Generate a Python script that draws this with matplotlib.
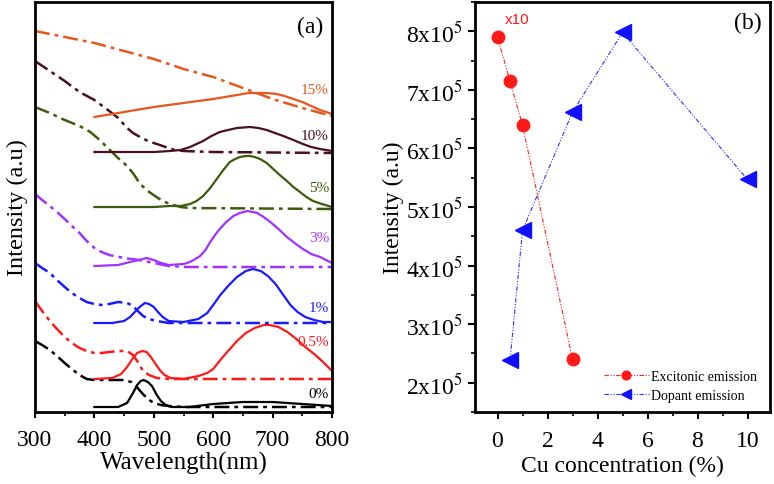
import matplotlib
matplotlib.use('Agg')
import matplotlib.pyplot as plt
from matplotlib.ticker import MultipleLocator

plt.rcParams['font.family'] = ['Liberation Serif', 'DejaVu Serif']
plt.rcParams['mathtext.fontset'] = 'stix'

# ---- panel (a): spectra (stacked, arbitrary units) ----
# dash-dot = absorption, solid = emission
wl_abs_0 = [300, 312, 325, 337, 350, 362, 375, 387, 400, 450, 462, 470, 480, 490, 500, 512, 525, 550, 800]
abs_0 = [71, 67, 62, 56, 49, 43, 37, 33, 32, 32, 30, 26, 19, 13, 9, 7, 6, 5, 5]
wl_abs_05 = [300, 312, 325, 337, 350, 362, 375, 387, 400, 412, 425, 440, 455, 465, 472, 482, 492, 505,
             525, 800]
abs_05 = [111, 101, 91, 83, 75, 69, 64, 61, 59, 59, 60, 61, 61, 57, 51, 41, 37, 34, 33, 33]
wl_abs_1 = [300, 312, 325, 337, 350, 362, 375, 387, 400, 412, 425, 440, 455, 465, 473, 482, 492, 505,
            525, 800]
abs_1 = [149, 144, 139, 132, 125, 119, 114, 110, 108, 107, 108, 110, 109, 106, 101, 96, 93, 91, 89, 89]
wl_abs_3 = [300, 312, 325, 337, 350, 362, 375, 387, 400, 412, 425, 450, 475, 500, 525, 550, 800]
abs_3 = [218, 212, 206, 200, 193, 186, 179, 171, 164, 160, 157, 154, 152, 149, 146, 145, 145]
wl_abs_5 = [300, 325, 350, 375, 393, 407, 421, 438, 455, 466, 477, 490, 502, 515, 527, 545, 560, 800]
abs_5 = [305, 299, 292, 286, 280, 273, 265, 255, 246, 238, 228, 221, 216, 211, 208, 205, 204, 203]
wl_abs_10 = [300, 325, 350, 375, 400, 425, 440, 455, 465, 477, 490, 505, 520, 535, 550, 600, 800]
abs_10 = [351, 341, 331, 320, 312, 301, 294, 284, 279, 275, 271, 268, 265, 262, 261, 260, 259]
wl_abs_15 = [300, 350, 400, 450, 500, 550, 600, 650, 700, 750, 800]
abs_15 = [381, 375, 369, 361, 353, 343, 335, 324, 313, 304, 296]

wl_em_0 = [400, 440, 455, 465, 472, 478, 483, 490, 497, 505, 512, 520, 530, 560, 600, 650, 700, 750, 800]
em_0 = [5, 5, 9, 19, 27, 31, 32, 30, 26, 17, 11, 7, 5, 5, 8, 10, 10, 8, 6]
wl_em_05 = [400, 430, 445, 455, 465, 472, 480, 488, 495, 502, 510, 518, 528, 550, 575, 590, 600, 612,
            625, 640, 655, 670, 685, 695, 710, 725, 740, 755, 770, 785, 800]
em_05 = [33, 34, 38, 45, 54, 59, 61, 60, 55, 49, 42, 37, 34, 33, 36, 39, 43, 52, 61, 71, 79, 84, 87, 87,
         85, 80, 73, 65, 58, 50, 41]
wl_em_1 = [400, 430, 450, 460, 468, 476, 485, 492, 500, 507, 515, 525, 550, 575, 590, 600, 612, 625,
           640, 655, 667, 680, 692, 705, 718, 730, 742, 755, 770, 785, 800]
em_1 = [89, 89, 91, 95, 100, 105, 109, 108, 105, 100, 95, 91, 90, 93, 99, 107, 117, 126, 135, 141, 143,
        141, 136, 128, 117, 107, 100, 95, 92, 90, 90]
wl_em_3 = [400, 440, 460, 475, 488, 500, 512, 525, 550, 561, 570, 578, 587, 595, 603, 611, 622, 634,
           645, 657, 667, 674, 685, 696, 710, 724, 737, 751, 765, 780, 800]
em_3 = [146, 147, 150, 152, 154, 152, 149, 147, 148, 150, 153, 156, 162, 170, 177, 183, 190, 196, 199,
        201, 200, 199, 195, 190, 183, 175, 169, 163, 158, 155, 149]
wl_em_5 = [400, 450, 500, 527, 545, 561, 572, 583, 595, 606, 617, 628, 637, 645, 655, 662, 670, 679,
           690, 701, 712, 724, 735, 746, 757, 768, 783, 800]
em_5 = [205, 205, 205, 206, 206, 208, 211, 216, 224, 233, 242, 250, 253, 255, 256, 256, 255, 253, 249,
        243, 237, 231, 225, 220, 215, 211, 208, 205]
wl_em_10 = [400, 450, 500, 527, 545, 561, 572, 583, 597, 611, 625, 640, 662, 676, 690, 704, 718, 735,
            751, 765, 780, 800]
em_10 = [260, 260, 260, 261, 262, 265, 268, 271, 276, 280, 282, 284, 285, 284, 282, 279, 276, 272, 268,
         265, 263, 261]
wl_em_15 = [400, 450, 500, 550, 600, 640, 660, 690, 707, 720, 735, 750, 765, 780, 800]
em_15 = [295, 300, 305, 309, 313, 317, 319, 319, 318, 316, 313, 310, 306, 302, 298]

labels_a = ['0%', '0.5%', '1%', '3%', '5%', '10%', '15%']
label_y = [18, 70, 105, 175, 225, 276, 322]
colors_a = ['black', '#FF1A1A', '#1A1AFF', '#A033FF', '#3E5A0C', '#4B0F1E', '#E8561E']

# ---- panel (b): intensity vs Cu concentration ----
cu_exc = [0, 0.5, 1, 3]
int_exc = [7.9e5, 7.15e5, 6.4e5, 2.4e5]
cu_dop = [0.5, 1, 3, 5, 10]
int_dop = [2.38e5, 4.6e5, 6.62e5, 7.98e5, 5.47e5]

fig = plt.figure(figsize=(7.74, 4.85), dpi=100)
ax1 = fig.add_axes([35 / 774, 72 / 485, 297 / 774, 410 / 485])
ax2 = fig.add_axes([475 / 774, 72 / 485, 295 / 774, 410 / 485])

dd = (0, (6, 2, 1.5, 2))
abs_all = [(wl_abs_0, abs_0), (wl_abs_05, abs_05), (wl_abs_1, abs_1), (wl_abs_3, abs_3),
           (wl_abs_5, abs_5), (wl_abs_10, abs_10), (wl_abs_15, abs_15)]
em_all = [(wl_em_0, em_0), (wl_em_05, em_05), (wl_em_1, em_1), (wl_em_3, em_3),
          (wl_em_5, em_5), (wl_em_10, em_10), (wl_em_15, em_15)]
for (wa, a), (w, e), c in zip(abs_all, em_all, colors_a):
    ax1.plot(wa, a, color=c, lw=1.8, linestyle=dd)
    ax1.plot(w, e, color=c, lw=1.6)
for lab, y, c in zip(labels_a, label_y, colors_a):
    ax1.text(795, y, lab, color=c, fontsize=11, ha='right', va='center')

ax1.set_xlim(300, 800)
ax1.set_ylim(0, 410)
ax1.set_yticks([])
ax1.xaxis.set_major_locator(MultipleLocator(100))
ax1.xaxis.set_minor_locator(MultipleLocator(50))
ax1.tick_params(axis='x', which='major', direction='out', length=4, width=1.5, labelsize=17, pad=8)
ax1.tick_params(axis='x', which='minor', direction='out', length=3, width=1.2)
ax1.set_xlabel('Wavelength(nm)', fontsize=18, labelpad=1)
ax1.set_ylabel('Intensity (a.u)', fontsize=17.5, labelpad=5)
ax1.text(0.97, 0.94, '(a)', transform=ax1.transAxes, fontsize=17, ha='right', va='center')

ls_b = (0, (4, 1.5, 1, 1.5, 1, 1.5))
ax2.plot(cu_exc, int_exc, color='#FF2020', lw=0.8, linestyle=ls_b,
         marker='o', markersize=9, markerfacecolor='#FF1A1A', markeredgecolor='#FF1A1A',
         label='Excitonic emission')
ax2.plot(cu_dop, int_dop, color='#3030FF', lw=0.8, linestyle=ls_b,
         marker='<', markersize=11, markerfacecolor='#1010FF', markeredgecolor='#1010FF',
         label='Dopant emission')
ax2.text(0.3, 8.14e5, 'x10', color='#FF1A1A', fontsize=11, family='Liberation Sans')
ax2.text(0.97, 0.95, '(b)', transform=ax2.transAxes, fontsize=17, ha='right', va='center')

ax2.set_xlim(-0.9, 10.9)
ax2.set_ylim(1.5e5, 8.5e5)
ax2.xaxis.set_major_locator(MultipleLocator(2))
ax2.xaxis.set_minor_locator(MultipleLocator(1))
ax2.yaxis.set_minor_locator(MultipleLocator(0.5e5))
yt = [2e5, 3e5, 4e5, 5e5, 6e5, 7e5, 8e5]
ax2.set_yticks(yt)
ax2.set_yticklabels([f'{int(v / 1e5)}x10$^5$' for v in yt])
ax2.tick_params(which='major', direction='out', length=5, width=1.5, labelsize=17)
ax2.tick_params(axis='x', which='major', pad=8)
ax2.tick_params(which='minor', direction='out', length=3, width=1.2)
ax2.set_xlabel('Cu concentration (%)', fontsize=17, labelpad=3)
ax2.set_ylabel('Intensity (a.u)', fontsize=17, labelpad=2)
ax2.legend(loc='lower right', bbox_to_anchor=(1.0, -0.005), frameon=False, fontsize=10,
           handlelength=3.2, handletextpad=0.2, labelspacing=0.4, numpoints=1,
           markerscale=0.7)

for ax in (ax1, ax2):
    for s in ax.spines.values():
        s.set_linewidth(2)

fig.savefig('out.png', dpi=100)
